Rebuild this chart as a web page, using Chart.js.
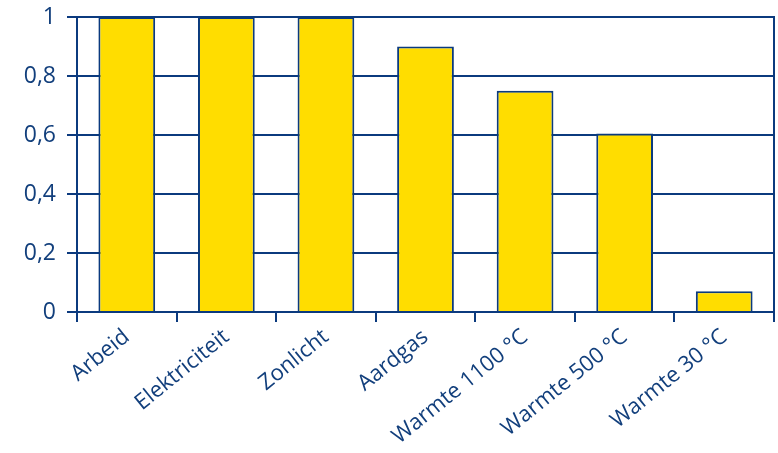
<!DOCTYPE html>
<html><head><meta charset="utf-8">
<script src="https://cdn.jsdelivr.net/npm/chart.js@4/dist/chart.umd.min.js"></script>
<style>html,body{margin:0;padding:0;background:#fff}#wrap{width:778px;height:453px}</style>
</head><body><div id="wrap"><canvas id="c"></canvas></div>
<script>
const categories = ["Arbeid", "Elektriciteit", "Zonlicht", "Aardgas", "Warmte 1100 °C", "Warmte 500 °C", "Warmte 30 °C"];
const values = [1, 1, 1, 0.9, 0.75, 0.605, 0.07];
const yTicks = [0, 0.2, 0.4, 0.6, 0.8, 1];

const navy = '#0b3a7e';
const textCol = '#123f7c';
Chart.defaults.font.family = '"Open Sans", "Noto Sans", sans-serif';

function noPad(s) { s.paddingTop = 0; s.paddingBottom = 0; }

new Chart(document.getElementById('c'), {
  type: 'bar',
  data: {
    labels: categories,
    datasets: [{
      data: values,
      backgroundColor: '#ffdd00',
      borderColor: navy,
      borderWidth: 2,
      barPercentage: 0.57,
      categoryPercentage: 1
    }]
  },
  options: {
    responsive: true,
    maintainAspectRatio: false,
    animation: false,
    layout: { padding: { top: 17, left: 0, right: 0, bottom: 0 } },
    plugins: { legend: { display: false }, tooltip: { enabled: false } },
    scales: {
      x: {
        grid: { offset: true, drawOnChartArea: false, drawTicks: true, tickLength: 10, color: navy, lineWidth: 2 },
        border: { display: true, color: navy, width: 2 },
        ticks: { color: textCol, font: { size: 22 }, minRotation: 39, maxRotation: 39, padding: 2, autoSkip: false },
        afterFit: s => { s.height = 141; s.paddingLeft = 0; s.paddingRight = 0; }
      },
      y: {
        min: 0, max: 1,
        afterBuildTicks: s => { s.ticks = yTicks.map(v => ({ value: v })); },
        grid: { color: navy, lineWidth: 2, tickLength: 10, drawTicks: true },
        border: { display: true, color: navy, width: 2 },
        ticks: {
          color: textCol, font: { size: 23 }, padding: 11,
          callback: v => String(Math.round(v * 10) / 10).replace('.', ',')
        },
        afterFit: s => { s.width = 77; noPad(s); }
      },
      y2: {
        position: 'right', min: 0, max: 1,
        grid: { display: false },
        border: { display: true, color: navy, width: 2 },
        ticks: { display: false },
        afterFit: s => { s.width = 4; noPad(s); }
      }
    }
  }
});
</script></body></html>
